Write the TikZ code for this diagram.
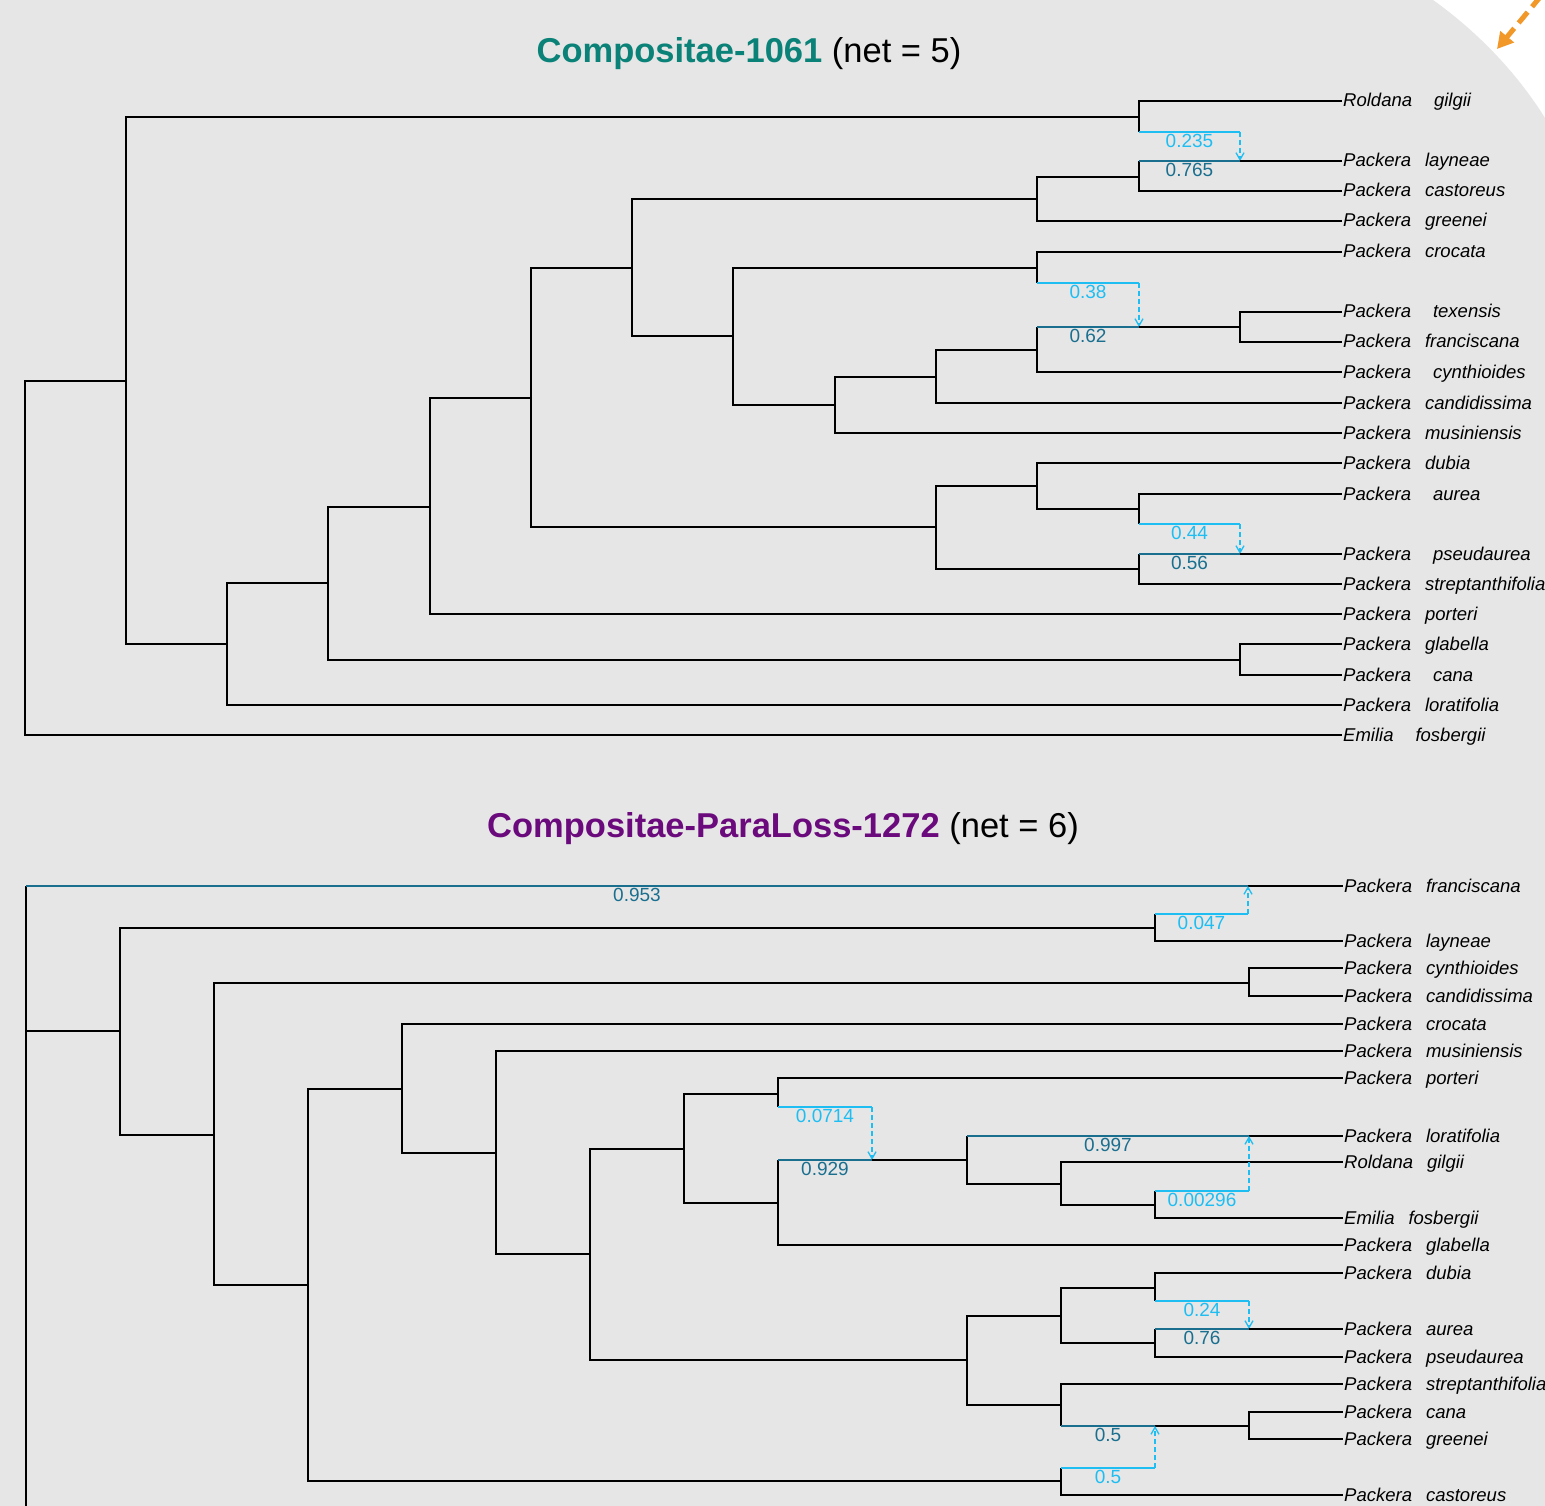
\documentclass[tikz,border=0pt]{standalone}
\usepackage{fontspec}
\setmainfont{Liberation Sans}
\usetikzlibrary{arrows.meta}
\definecolor{bggrey}{RGB}{230,230,230}
\definecolor{majblue}{RGB}{26,111,143}
\definecolor{minblue}{RGB}{30,190,242}
\definecolor{titleteal}{RGB}{10,130,120}
\definecolor{titlepurple}{RGB}{107,10,124}
\definecolor{hintorange}{RGB}{242,152,40}
\newcommand{\taxname}[3][14pt]{\textit{#2}\hspace{#1}\textit{#3}}

\begin{document}
\begin{tikzpicture}[x=1pt, y=-1pt,
        tree/.style={draw=black, line width=1.3pt},
        major/.style={draw=majblue, line width=1.3pt},
        minor/.style={draw=minblue, line width=1.3pt},
        hyb/.style={minor, dash pattern=on 5pt off 3pt, -{Straight Barb[length=7pt,width=8pt]}},
        taxon/.style={anchor=west, inner sep=1pt, font=\fontsize{18.5}{22}\selectfont, text height=14pt, text depth=2pt},
        gmaj/.style={below=1.2pt, inner sep=0pt, text=majblue, font=\fontsize{19}{22}\selectfont},
        gmin/.style={below=1.2pt, inner sep=0pt, text=minblue, font=\fontsize{19}{22}\selectfont},
        title/.style={anchor=base, font=\fontsize{34.5}{40}\selectfont}
]
    \useasboundingbox (0,0) rectangle (1545,1506);
    \fill[white] (0,0) rectangle (1545,1506);
    \fill[bggrey] (0,0) -- (1433,0) .. controls (1475,30) and (1515,70) .. (1545,118) -- (1545,1506) -- (0,1506) -- cycle;
    \coordinate (hintA) at (1541,-4);
    \coordinate (hintB) at (1497,49);
    \draw[hintorange, line width=5pt, dash pattern=on 14pt off 7pt, -{Triangle[length=16pt,width=17pt]}] (hintA) -- (hintB);

    \node[title] (titleA) at (749,63) {\textbf{\color{titleteal}Compositae-1061} (net = 5)};
    \node[title] (titleB) at (783,837) {\textbf{\color{titlepurple}Compositae-ParaLoss-1272} (net = 6)};

    % upper network
    \node[taxon] (gilgiiA) at (1342,101) {\taxname[22pt]{Roldana}{gilgii}};
    \node[taxon] (layneaeA) at (1342,161) {\taxname{Packera}{layneae}};
    \node[taxon] (castoreusA) at (1342,191) {\taxname{Packera}{castoreus}};
    \node[taxon] (greeneiA) at (1342,221) {\taxname{Packera}{greenei}};
    \node[taxon] (crocataA) at (1342,252) {\taxname{Packera}{crocata}};
    \node[taxon] (texensisA) at (1342,312) {\taxname[22pt]{Packera}{texensis}};
    \node[taxon] (franciscanaA) at (1342,342) {\taxname{Packera}{franciscana}};
    \node[taxon] (cynthioidesA) at (1342,372) {\taxname[22pt]{Packera}{cynthioides}};
    \node[taxon] (candidissimaA) at (1342,403) {\taxname{Packera}{candidissima}};
    \node[taxon] (musiniensisA) at (1342,433) {\taxname{Packera}{musiniensis}};
    \node[taxon] (dubiaA) at (1342,463) {\taxname{Packera}{dubia}};
    \node[taxon] (aureaA) at (1342,494) {\taxname[22pt]{Packera}{aurea}};
    \node[taxon] (pseudaureaA) at (1342,554) {\taxname[22pt]{Packera}{pseudaurea}};
    \node[taxon] (streptanthifoliaA) at (1342,584) {\taxname{Packera}{streptanthifolia}};
    \node[taxon] (porteriA) at (1342,614) {\taxname{Packera}{porteri}};
    \node[taxon] (glabellaA) at (1342,644) {\taxname{Packera}{glabella}};
    \node[taxon] (canaA) at (1342,675) {\taxname[22pt]{Packera}{cana}};
    \node[taxon] (loratifoliaA) at (1342,705) {\taxname{Packera}{loratifolia}};
    \node[taxon] (fosbergiiA) at (1342,735) {\taxname[22pt]{Emilia}{fosbergii}};

    \coordinate (rootA) at (25,558);
    \coordinate (n1A) at (126,381);
    \coordinate (n2A) at (1139,117);
    \coordinate (m1A) at (1139,132);
    \coordinate (h1A) at (1240,161);
    \coordinate (n3A) at (227,644);
    \coordinate (n4A) at (328,583);
    \coordinate (n5A) at (430,507);
    \coordinate (n6A) at (1240,660);
    \coordinate (n7A) at (531,398);
    \coordinate (n8A) at (632,268);
    \coordinate (n9A) at (936,527);
    \coordinate (n10A) at (1037,199);
    \coordinate (n11A) at (733,336);
    \coordinate (n12A) at (1139,177);
    \coordinate (n13A) at (1037,268);
    \coordinate (m2A) at (1037,283);
    \coordinate (h2A) at (1139,327);
    \coordinate (n14A) at (835,405);
    \coordinate (n15A) at (936,377);
    \coordinate (n16A) at (1037,350);
    \coordinate (n17A) at (1240,327);
    \coordinate (n18A) at (1037,486);
    \coordinate (n19A) at (1139,569);
    \coordinate (n20A) at (1139,509);
    \coordinate (m3A) at (1139,524);
    \coordinate (h3A) at (1240,554);

    \draw[tree] (rootA) |- (n1A);
    \draw[tree] (rootA) |- (fosbergiiA.west);
    \draw[tree] (n1A) |- (n2A);
    \draw[tree] (n1A) |- (n3A);
    \draw[tree] (n2A) |- (gilgiiA.west);
    \draw[tree] (n2A) -- (m1A);
    \draw[minor] (m1A) -- node[gmin] {0.235} (m1A -| h1A);
    \draw[hyb] (m1A -| h1A) -- (h1A);
    \draw[tree] (h1A) -- (layneaeA.west);
    \draw[tree] (n3A) |- (n4A);
    \draw[tree] (n3A) |- (loratifoliaA.west);
    \draw[tree] (n4A) |- (n5A);
    \draw[tree] (n4A) |- (n6A);
    \draw[tree] (n6A) |- (glabellaA.west);
    \draw[tree] (n6A) |- (canaA.west);
    \draw[tree] (n5A) |- (n7A);
    \draw[tree] (n5A) |- (porteriA.west);
    \draw[tree] (n7A) |- (n8A);
    \draw[tree] (n7A) |- (n9A);
    \draw[tree] (n8A) |- (n10A);
    \draw[tree] (n8A) |- (n11A);
    \draw[tree] (n10A) |- (n12A);
    \draw[tree] (n10A) |- (greeneiA.west);
    \draw[tree] (n12A) -- (n12A |- h1A);
    \draw[major] (n12A |- h1A) -- node[gmaj] {0.765} (h1A);
    \draw[tree] (n12A) |- (castoreusA.west);
    \draw[tree] (n11A) |- (n13A);
    \draw[tree] (n11A) |- (n14A);
    \draw[tree] (n13A) |- (crocataA.west);
    \draw[tree] (n13A) -- (m2A);
    \draw[minor] (m2A) -- node[gmin] {0.38} (m2A -| h2A);
    \draw[hyb] (m2A -| h2A) -- (h2A);
    \draw[tree] (n14A) |- (n15A);
    \draw[tree] (n14A) |- (musiniensisA.west);
    \draw[tree] (n15A) |- (n16A);
    \draw[tree] (n15A) |- (candidissimaA.west);
    \draw[tree] (n16A) -- (n16A |- h2A);
    \draw[major] (n16A |- h2A) -- node[gmaj] {0.62} (h2A);
    \draw[tree] (n16A) |- (cynthioidesA.west);
    \draw[tree] (h2A) -- (n17A);
    \draw[tree] (n17A) |- (texensisA.west);
    \draw[tree] (n17A) |- (franciscanaA.west);
    \draw[tree] (n9A) |- (n18A);
    \draw[tree] (n9A) |- (n19A);
    \draw[tree] (n18A) |- (dubiaA.west);
    \draw[tree] (n18A) |- (n20A);
    \draw[tree] (n20A) |- (aureaA.west);
    \draw[tree] (n20A) -- (m3A);
    \draw[minor] (m3A) -- node[gmin] {0.44} (m3A -| h3A);
    \draw[hyb] (m3A -| h3A) -- (h3A);
    \draw[tree] (n19A) -- (n19A |- h3A);
    \draw[major] (n19A |- h3A) -- node[gmaj] {0.56} (h3A);
    \draw[tree] (n19A) |- (streptanthifoliaA.west);
    \draw[tree] (h3A) -- (pseudaureaA.west);

    % lower network
    \node[taxon] (franciscanaB) at (1343,886) {\taxname{Packera}{franciscana}};
    \node[taxon] (layneaeB) at (1343,941) {\taxname{Packera}{layneae}};
    \node[taxon] (cynthioidesB) at (1343,968) {\taxname{Packera}{cynthioides}};
    \node[taxon] (candidissimaB) at (1343,996) {\taxname{Packera}{candidissima}};
    \node[taxon] (crocataB) at (1343,1024) {\taxname{Packera}{crocata}};
    \node[taxon] (musiniensisB) at (1343,1051) {\taxname{Packera}{musiniensis}};
    \node[taxon] (porteriB) at (1343,1078) {\taxname{Packera}{porteri}};
    \node[taxon] (loratifoliaB) at (1343,1136) {\taxname{Packera}{loratifolia}};
    \node[taxon] (gilgiiB) at (1343,1162) {\taxname{Roldana}{gilgii}};
    \node[taxon] (fosbergiiB) at (1343,1218) {\taxname{Emilia}{fosbergii}};
    \node[taxon] (glabellaB) at (1343,1245) {\taxname{Packera}{glabella}};
    \node[taxon] (dubiaB) at (1343,1273) {\taxname{Packera}{dubia}};
    \node[taxon] (aureaB) at (1343,1329) {\taxname{Packera}{aurea}};
    \node[taxon] (pseudaureaB) at (1343,1357) {\taxname{Packera}{pseudaurea}};
    \node[taxon] (streptanthifoliaB) at (1343,1384) {\taxname{Packera}{streptanthifolia}};
    \node[taxon] (canaB) at (1343,1412) {\taxname{Packera}{cana}};
    \node[taxon] (greeneiB) at (1343,1439) {\taxname{Packera}{greenei}};
    \node[taxon] (castoreusB) at (1343,1495) {\taxname{Packera}{castoreus}};

    \coordinate (rootB) at (26,1512);
    \coordinate (h1B) at (1248,886);
    \coordinate (n1B) at (120,1031);
    \coordinate (n2B) at (1155,928);
    \coordinate (m1B) at (1155,914);
    \coordinate (n3B) at (214,1135);
    \coordinate (n4B) at (1249,983);
    \coordinate (n5B) at (308,1285);
    \coordinate (n6B) at (402,1089);
    \coordinate (n7B) at (1061,1481);
    \coordinate (m5B) at (1061,1468);
    \coordinate (n8B) at (496,1153);
    \coordinate (n9B) at (590,1254);
    \coordinate (n10B) at (684,1149);
    \coordinate (n11B) at (967,1360);
    \coordinate (n12B) at (778,1094);
    \coordinate (m2B) at (778,1107);
    \coordinate (n13B) at (778,1203);
    \coordinate (h2B) at (872,1160);
    \coordinate (n14B) at (967,1160);
    \coordinate (h3B) at (1249,1136);
    \coordinate (n15B) at (1061,1184);
    \coordinate (n16B) at (1155,1205);
    \coordinate (m3B) at (1155,1191);
    \coordinate (n17B) at (1061,1316);
    \coordinate (n18B) at (1061,1405);
    \coordinate (n19B) at (1155,1288);
    \coordinate (m4B) at (1155,1301);
    \coordinate (n20B) at (1155,1343);
    \coordinate (h4B) at (1249,1329);
    \coordinate (h5B) at (1155,1426);
    \coordinate (n21B) at (1249,1426);

    \draw[tree] (rootB) |- (n1B);
    \draw[tree] (n1B -| rootB) -- (rootB |- h1B);
    \draw[major] (rootB |- h1B) -- node[gmaj] {0.953} (h1B);
    \draw[tree] (h1B) -- (franciscanaB.west);
    \draw[tree] (n1B) |- (n2B);
    \draw[tree] (n1B) |- (n3B);
    \draw[tree] (n2B) |- (layneaeB.west);
    \draw[tree] (n2B) -- (m1B);
    \draw[minor] (m1B) -- node[gmin] {0.047} (m1B -| h1B);
    \draw[hyb] (m1B -| h1B) -- (h1B);
    \draw[tree] (n3B) |- (n4B);
    \draw[tree] (n3B) |- (n5B);
    \draw[tree] (n4B) |- (cynthioidesB.west);
    \draw[tree] (n4B) |- (candidissimaB.west);
    \draw[tree] (n5B) |- (n6B);
    \draw[tree] (n5B) |- (n7B);
    \draw[tree] (n6B) |- (crocataB.west);
    \draw[tree] (n6B) |- (n8B);
    \draw[tree] (n8B) |- (musiniensisB.west);
    \draw[tree] (n8B) |- (n9B);
    \draw[tree] (n9B) |- (n10B);
    \draw[tree] (n9B) |- (n11B);
    \draw[tree] (n10B) |- (n12B);
    \draw[tree] (n10B) |- (n13B);
    \draw[tree] (n12B) |- (porteriB.west);
    \draw[tree] (n12B) -- (m2B);
    \draw[minor] (m2B) -- node[gmin] {0.0714} (m2B -| h2B);
    \draw[hyb] (m2B -| h2B) -- (h2B);
    \draw[tree] (n13B) -- (n13B |- h2B);
    \draw[major] (n13B |- h2B) -- node[gmaj] {0.929} (h2B);
    \draw[tree] (n13B) |- (glabellaB.west);
    \draw[tree] (h2B) -- (n14B);
    \draw[tree] (n14B) -- (n14B |- h3B);
    \draw[major] (n14B |- h3B) -- node[gmaj] {0.997} (h3B);
    \draw[tree] (n14B) |- (n15B);
    \draw[tree] (h3B) -- (loratifoliaB.west);
    \draw[tree] (n15B) |- (gilgiiB.west);
    \draw[tree] (n15B) |- (n16B);
    \draw[tree] (n16B) -- (m3B);
    \draw[minor] (m3B) -- node[gmin] {0.00296} (m3B -| h3B);
    \draw[hyb] (m3B -| h3B) -- (h3B);
    \draw[tree] (n16B) |- (fosbergiiB.west);
    \draw[tree] (n11B) |- (n17B);
    \draw[tree] (n11B) |- (n18B);
    \draw[tree] (n17B) |- (n19B);
    \draw[tree] (n17B) |- (n20B);
    \draw[tree] (n19B) |- (dubiaB.west);
    \draw[tree] (n19B) -- (m4B);
    \draw[minor] (m4B) -- node[gmin] {0.24} (m4B -| h4B);
    \draw[hyb] (m4B -| h4B) -- (h4B);
    \draw[tree] (n20B) -- (n20B |- h4B);
    \draw[major] (n20B |- h4B) -- node[gmaj] {0.76} (h4B);
    \draw[tree] (n20B) |- (pseudaureaB.west);
    \draw[tree] (h4B) -- (aureaB.west);
    \draw[tree] (n18B) |- (streptanthifoliaB.west);
    \draw[tree] (n18B) -- (n18B |- h5B);
    \draw[major] (n18B |- h5B) -- node[gmaj] {0.5} (h5B);
    \draw[tree] (h5B) -- (n21B);
    \draw[tree] (n21B) |- (canaB.west);
    \draw[tree] (n21B) |- (greeneiB.west);
    \draw[tree] (n7B) -- (m5B);
    \draw[minor] (m5B) -- node[gmin] {0.5} (m5B -| h5B);
    \draw[hyb] (m5B -| h5B) -- (h5B);
    \draw[tree] (n7B) |- (castoreusB.west);

\end{tikzpicture}
\end{document}
